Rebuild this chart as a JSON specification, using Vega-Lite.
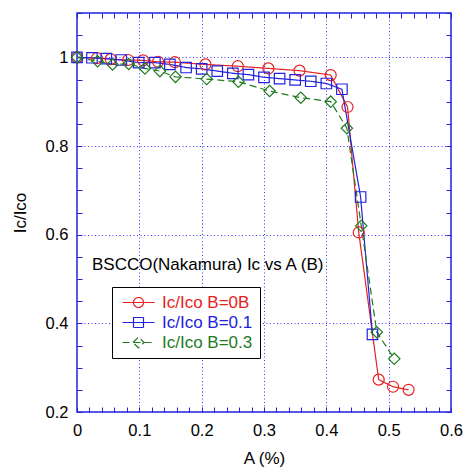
{
  "$schema": "https://vega.github.io/schema/vega-lite/v6.json",
  "width": 374,
  "height": 399,
  "autosize": {"type": "none"},
  "padding": {"left": 77, "top": 13, "right": 13, "bottom": 58},
  "background": "white",
  "data": {
    "values": [
      {"series": "Ic/Ico B=0B", "A": 0, "r": 1.0},
      {"series": "Ic/Ico B=0B", "A": 0.032, "r": 0.998},
      {"series": "Ic/Ico B=0B", "A": 0.054, "r": 0.996},
      {"series": "Ic/Ico B=0B", "A": 0.082, "r": 0.994},
      {"series": "Ic/Ico B=0B", "A": 0.106, "r": 0.993},
      {"series": "Ic/Ico B=0B", "A": 0.130, "r": 0.990},
      {"series": "Ic/Ico B=0B", "A": 0.157, "r": 0.989},
      {"series": "Ic/Ico B=0B", "A": 0.206, "r": 0.984},
      {"series": "Ic/Ico B=0B", "A": 0.258, "r": 0.980},
      {"series": "Ic/Ico B=0B", "A": 0.307, "r": 0.975},
      {"series": "Ic/Ico B=0B", "A": 0.357, "r": 0.970},
      {"series": "Ic/Ico B=0B", "A": 0.407, "r": 0.960},
      {"series": "Ic/Ico B=0B", "A": 0.434, "r": 0.888},
      {"series": "Ic/Ico B=0B", "A": 0.452, "r": 0.605},
      {"series": "Ic/Ico B=0B", "A": 0.484, "r": 0.273},
      {"series": "Ic/Ico B=0B", "A": 0.507, "r": 0.257},
      {"series": "Ic/Ico B=0B", "A": 0.532, "r": 0.250},
      {"series": "Ic/Ico B=0.1", "A": 0, "r": 1.0},
      {"series": "Ic/Ico B=0.1", "A": 0.024, "r": 0.999},
      {"series": "Ic/Ico B=0.1", "A": 0.047, "r": 0.997},
      {"series": "Ic/Ico B=0.1", "A": 0.071, "r": 0.994},
      {"series": "Ic/Ico B=0.1", "A": 0.099, "r": 0.988},
      {"series": "Ic/Ico B=0.1", "A": 0.125, "r": 0.988},
      {"series": "Ic/Ico B=0.1", "A": 0.149, "r": 0.984},
      {"series": "Ic/Ico B=0.1", "A": 0.175, "r": 0.977},
      {"series": "Ic/Ico B=0.1", "A": 0.200, "r": 0.974},
      {"series": "Ic/Ico B=0.1", "A": 0.225, "r": 0.969},
      {"series": "Ic/Ico B=0.1", "A": 0.250, "r": 0.964},
      {"series": "Ic/Ico B=0.1", "A": 0.275, "r": 0.961},
      {"series": "Ic/Ico B=0.1", "A": 0.300, "r": 0.955},
      {"series": "Ic/Ico B=0.1", "A": 0.325, "r": 0.952},
      {"series": "Ic/Ico B=0.1", "A": 0.350, "r": 0.949},
      {"series": "Ic/Ico B=0.1", "A": 0.375, "r": 0.946},
      {"series": "Ic/Ico B=0.1", "A": 0.400, "r": 0.941},
      {"series": "Ic/Ico B=0.1", "A": 0.425, "r": 0.928},
      {"series": "Ic/Ico B=0.1", "A": 0.455, "r": 0.685},
      {"series": "Ic/Ico B=0.1", "A": 0.474, "r": 0.375},
      {"series": "Ic/Ico B=0.3", "A": 0, "r": 1.0},
      {"series": "Ic/Ico B=0.3", "A": 0.033, "r": 0.991},
      {"series": "Ic/Ico B=0.3", "A": 0.057, "r": 0.984},
      {"series": "Ic/Ico B=0.3", "A": 0.083, "r": 0.985},
      {"series": "Ic/Ico B=0.3", "A": 0.109, "r": 0.975},
      {"series": "Ic/Ico B=0.3", "A": 0.133, "r": 0.969},
      {"series": "Ic/Ico B=0.3", "A": 0.158, "r": 0.956},
      {"series": "Ic/Ico B=0.3", "A": 0.208, "r": 0.951},
      {"series": "Ic/Ico B=0.3", "A": 0.259, "r": 0.945},
      {"series": "Ic/Ico B=0.3", "A": 0.309, "r": 0.924},
      {"series": "Ic/Ico B=0.3", "A": 0.359, "r": 0.909},
      {"series": "Ic/Ico B=0.3", "A": 0.407, "r": 0.900},
      {"series": "Ic/Ico B=0.3", "A": 0.433, "r": 0.840},
      {"series": "Ic/Ico B=0.3", "A": 0.456, "r": 0.620},
      {"series": "Ic/Ico B=0.3", "A": 0.481, "r": 0.380},
      {"series": "Ic/Ico B=0.3", "A": 0.509, "r": 0.320}
    ]
  },
  "resolve": {"axis": {"x": "independent", "y": "independent"}},
  "layer": [
    {
      "mark": {"type": "line", "strokeWidth": 1.2},
      "encoding": {
        "x": {
          "field": "A", "type": "quantitative",
          "scale": {"domain": [0, 0.6], "nice": false, "zero": false},
          "axis": {
            "orient": "bottom", "title": "A (%)", "titlePadding": 12,
            "values": [0,0.02,0.04,0.06,0.08,0.1,0.12,0.14,0.16,0.18,0.2,0.22,0.24,0.26,0.28,0.3,0.32,0.34,0.36,0.38,0.4,0.42,0.44,0.46,0.48,0.5,0.52,0.54,0.56,0.58,0.6],
            "labelExpr": "abs(datum.value*10 - round(datum.value*10)) < 0.001 ? format(datum.value, '.1~f') : ''",
            "tickSize": -5, "labelPadding": 15,
            "grid": false
          }
        },
        "y": {
          "field": "r", "type": "quantitative",
          "scale": {"domain": [0.2, 1.1], "nice": false, "zero": false},
          "axis": {
            "orient": "left", "title": "Ic/Ico", "titlePadding": 16,
            "values": [0.2,0.25,0.3,0.35,0.4,0.45,0.5,0.55,0.6,0.65,0.7,0.75,0.8,0.85,0.9,0.95,1.0,1.05,1.1],
            "labelExpr": "abs(datum.value*5 - round(datum.value*5)) < 0.001 ? format(datum.value, '.1~f') : ''",
            "tickSize": -5, "labelPadding": 14,
            "grid": false
          }
        },
        "color": {
          "field": "series", "type": "nominal",
          "scale": {"domain": ["Ic/Ico B=0B", "Ic/Ico B=0.1", "Ic/Ico B=0.3"], "range": ["#e62222", "#2222dd", "#1e7b1e"]},
          "legend": {
            "title": null, "orient": "none", "legendX": 35, "legendY": 274,
            "symbolSize": 100, "symbolOffset": 11, "labelOffset": 15,
            "padding": 7, "rowPadding": 2,
            "strokeColor": "black", "fillColor": "white",
            "labelFont": "Liberation Sans", "labelFontSize": 17,
            "encode": {
              "symbols": {
                "update": {
                  "shape": {"signal": "datum.value == 'Ic/Ico B=0B' ? 'M-3.2,0H3.2M-1,0A1,1 0 1,1 1,0A1,1 0 1,1 -1,0' : datum.value == 'Ic/Ico B=0.1' ? 'M-3.2,0H3.2M-1,-1H1V1H-1Z' : 'M-3.2,0H3.2M-1.1,0L0,-1.1L1.1,0L0,1.1Z'"},
                  "fill": {"value": "transparent"},
                  "strokeWidth": {"value": 1.2},
                  "strokeDash": {"signal": "datum.value == 'Ic/Ico B=0.3' ? [5,3] : [1,0]"}
                }
              },
              "labels": {
                "update": {
                  "fill": {"scale": "color", "field": "value"}
                }
              }
            }
          }
        },
        "strokeDash": {
          "field": "series", "type": "nominal",
          "scale": {"domain": ["Ic/Ico B=0B", "Ic/Ico B=0.1", "Ic/Ico B=0.3"], "range": [[1,0],[1,0],[7,4]]},
          "legend": null
        }
      }
    },
    {
      "transform": [{"filter": "datum.series == 'Ic/Ico B=0B'"}],
      "mark": {"type": "point", "shape": "circle", "filled": false, "size": 121, "strokeWidth": 1.2, "opacity": 1},
      "encoding": {
        "x": {
          "field": "A", "type": "quantitative",
          "axis": {
            "orient": "top", "title": null, "labels": false, "grid": false, "tickSize": -5,
            "values": [0,0.02,0.04,0.06,0.08,0.1,0.12,0.14,0.16,0.18,0.2,0.22,0.24,0.26,0.28,0.3,0.32,0.34,0.36,0.38,0.4,0.42,0.44,0.46,0.48,0.5,0.52,0.54,0.56,0.58,0.6]
          }
        },
        "y": {
          "field": "r", "type": "quantitative",
          "axis": {
            "orient": "right", "title": null, "labels": false, "grid": false, "tickSize": -5,
            "values": [0.2,0.25,0.3,0.35,0.4,0.45,0.5,0.55,0.6,0.65,0.7,0.75,0.8,0.85,0.9,0.95,1.0,1.05,1.1]
          }
        },
        "color": {"field": "series", "type": "nominal", "legend": null}
      }
    },
    {
      "transform": [{"filter": "datum.series == 'Ic/Ico B=0.1'"}],
      "mark": {"type": "point", "shape": "square", "filled": false, "size": 110, "strokeWidth": 1.2, "opacity": 1},
      "encoding": {
        "x": {
          "field": "A", "type": "quantitative",
          "axis": {"orient": "bottom", "title": null, "labels": false, "ticks": false, "grid": true, "values": [0.1, 0.2, 0.3, 0.4, 0.5]}
        },
        "y": {
          "field": "r", "type": "quantitative",
          "axis": {"orient": "left", "title": null, "labels": false, "ticks": false, "grid": true, "values": [0.4, 0.6, 0.8, 1.0]}
        },
        "color": {"field": "series", "type": "nominal", "legend": null}
      }
    },
    {
      "transform": [{"filter": "datum.series == 'Ic/Ico B=0.3'"}],
      "mark": {"type": "point", "shape": "diamond", "filled": false, "size": 130, "strokeWidth": 1.2, "opacity": 1},
      "encoding": {
        "x": {"field": "A", "type": "quantitative", "axis": null},
        "y": {"field": "r", "type": "quantitative", "axis": null},
        "color": {"field": "series", "type": "nominal", "legend": null}
      }
    },
    {
      "data": {"values": [{"note": "BSCCO(Nakamura) Ic vs A (B)"}]},
      "mark": {"type": "text", "align": "left", "baseline": "middle", "font": "Liberation Sans", "fontSize": 17, "color": "black"},
      "encoding": {
        "text": {"field": "note"},
        "x": {"datum": 0.024, "type": "quantitative", "axis": null},
        "y": {"datum": 0.532, "type": "quantitative", "axis": null}
      }
    }
  ],
  "config": {
    "view": {"stroke": "#2222dd", "strokeWidth": 1.5},
    "axis": {
      "domain": false,
      "tickColor": "#2222dd",
      "tickWidth": 1,
      "labelFont": "Liberation Sans",
      "labelFontSize": 16.5,
      "labelColor": "black",
      "labelOverlap": false,
      "labelFlush": false,
      "titleFont": "Liberation Sans",
      "titleFontSize": 17,
      "titleFontWeight": "normal",
      "titleColor": "black",
      "gridColor": "#3a3aff",
      "gridDash": [1, 2.5],
      "gridWidth": 1
    }
  }
}
